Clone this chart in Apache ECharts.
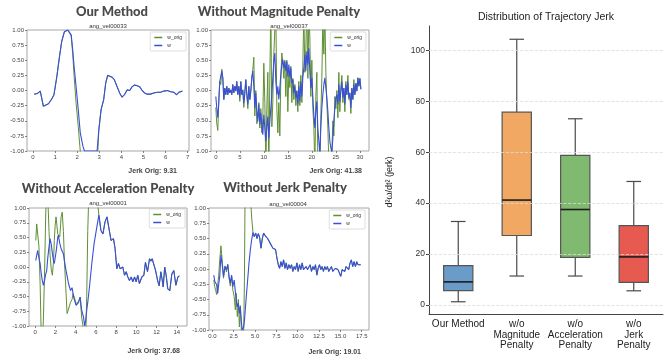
<!DOCTYPE html>
<html>
<head>
<meta charset="utf-8">
<script src="https://cdn.jsdelivr.net/npm/echarts@6/dist/echarts.min.js"></script>
<style>
  html, body { margin: 0; padding: 0; background: #fff; }
  #main { width: 665px; height: 360px; }
</style>
</head>
<body>
<div id="main"></div>
<script>
// --- Our Method (ang_vel00033)
const ourT = [0.06, 0.20, 0.33, 0.47, 0.55, 0.70, 0.85, 0.95, 1.08, 1.20, 1.30, 1.42, 1.50, 1.58, 1.65,
  1.73, 1.80, 1.86, 1.95, 2.05, 2.14, 2.26, 2.33, 2.60, 2.90, 2.98, 3.08, 3.20, 3.29, 3.38,
  3.47, 3.58, 3.68, 3.80, 3.92, 4.03, 4.14, 4.26, 4.38, 4.48, 4.59, 4.71, 4.83, 4.94, 5.05,
  5.17, 5.32, 5.47, 5.62, 5.77, 5.92, 6.08, 6.23, 6.38, 6.50, 6.60, 6.76];
const ourW = [-0.06, -0.05, -0.01, -0.26, -0.28, -0.22, -0.14, -0.07, 0.23, 0.56, 0.81, 0.97, 1.00, 1.00, 0.99,
  0.92, 0.67, 0.40, 0.07, -0.32, -0.70, -0.92, -1.00, -1.00, -1.00, -0.65, -0.32, -0.15, 0.12, 0.25,
  0.26, 0.22, 0.18, 0.07, -0.04, -0.11, -0.07, 0.01, 0.00, 0.06, 0.09, 0.08, 0.06, 0.00, -0.04,
  -0.06, -0.06, -0.04, -0.03, -0.03, -0.01, 0.00, -0.02, -0.03, -0.07, -0.03, -0.01];
const ourOrig = [-0.06, -0.05, -0.01, -0.26, -0.28, -0.22, -0.14, -0.07, 0.23, 0.56, 0.81, 0.97, 1.00, 1.00, 0.99,
  0.90, 0.60, 0.25, -0.20, -0.60, -1.00, -1.60, -1.90, -2.20, -1.30, -0.65, -0.32, -0.15, 0.12, 0.25,
  0.26, 0.22, 0.18, 0.07, -0.04, -0.11, -0.07, 0.01, 0.00, 0.06, 0.09, 0.08, 0.06, 0.00, -0.04,
  -0.06, -0.06, -0.04, -0.03, -0.03, -0.01, 0.00, -0.02, -0.03, -0.07, -0.03, -0.01];

// --- Without Magnitude Penalty (ang_vel00037)
const magT = [0.00, 0.21, 0.42, 0.62, 0.83, 1.04, 1.25, 1.46, 1.67, 1.87,
  2.08, 2.29, 2.50, 2.71, 2.92, 3.12, 3.33, 3.54, 3.75, 3.96,
  4.17, 4.37, 4.58, 4.79, 5.00, 5.21, 5.42, 5.62, 5.83, 6.04,
  6.25, 6.46, 6.67, 6.87, 7.08, 7.29, 7.50, 7.71, 7.92, 8.12,
  8.33, 8.54, 8.75, 8.96, 9.17, 9.37, 9.58, 9.79, 10.00, 10.21,
  10.42, 10.62, 10.83, 11.04, 11.25, 11.46, 11.67, 11.87, 12.08, 12.29,
  12.50, 12.71, 12.92, 13.12, 13.33, 13.54, 13.75, 13.96, 14.17, 14.37,
  14.58, 14.79, 15.00, 15.21, 15.42, 15.62, 15.83, 16.04, 16.25, 16.46,
  16.67, 16.87, 17.08, 17.29, 17.50, 17.71, 17.92, 18.12, 18.33, 18.54,
  18.75, 18.96, 19.17, 19.37, 19.58, 19.79, 20.00, 20.21, 20.42, 20.62,
  20.83, 21.04, 21.25, 21.46, 21.67, 21.87, 22.08, 22.29, 22.50, 22.71,
  22.92, 23.12, 23.33, 23.54, 23.75, 23.96, 24.17, 24.37, 24.58, 24.79,
  25.00, 25.21, 25.42, 25.62, 25.83, 26.04, 26.25, 26.46, 26.67, 26.87,
  27.08, 27.29, 27.50, 27.71, 27.92, 28.12, 28.33, 28.54, 28.75, 28.96,
  29.17, 29.37, 29.58, 29.79, 30.00, 30.21];
const magW = [-0.10, -0.29, -0.45, -0.21, 0.15, 0.12, 0.32, 0.21, -0.15, 0.04,
  -0.07, 0.07, -0.07, 0.04, -0.04, 0.01, -0.07, 0.10, -0.04, 0.07,
  -0.01, 0.15, -0.07, 0.07, -0.12, 0.15, -0.07, 0.01, -0.21, -0.04,
  0.18, -0.07, -0.23, 0.07, -0.15, -0.01, 0.21, 0.32, 0.07, -0.29,
  -0.04, -0.32, -0.51, -0.23, -0.56, -0.37, -0.56, -0.73, -0.40, -0.62,
  -0.84, -0.62, -0.43, -0.79, -0.51, -0.29, -0.07, 0.21, 0.48, 0.62,
  0.15, -0.07, 0.07, -0.15, 0.04, 0.26, 0.43, 0.51, 0.37, 0.48,
  0.32, 0.48, 0.23, 0.43, 0.21, 0.37, 0.12, 0.18, -0.04, 0.07,
  -0.12, -0.01, -0.23, 0.07, -0.18, 0.15, -0.10, 0.21, 0.37, 0.59,
  0.32, 0.65, 0.43, 0.70, 0.32, 0.04, 0.21, -0.12, -0.40, -0.62,
  -0.34, -0.18, -0.62, -0.84, -1.03, -0.62, -0.29, -0.07, 0.10, 0.21,
  0.04, -0.12, -0.34, -0.62, -0.84, -0.95, -1.03, -0.79, -0.51, -0.29,
  -0.12, -0.07, -0.23, 0.10, -0.18, -0.01, 0.15, -0.12, 0.04, -0.23,
  0.10, -0.07, 0.15, -0.12, -0.04, -0.29, 0.04, -0.15, 0.10, -0.07,
  0.12, -0.01, 0.21, 0.07, 0.20, 0.02];
const magOrig = [-0.28, -0.55, -0.66, -0.15, 0.15, 0.10, 0.35, 0.20, -0.15, 0.04,
  -0.07, 0.07, -0.07, 0.04, -0.04, 0.01, -0.07, 0.10, -0.04, 0.07,
  -0.01, 0.15, -0.07, 0.07, -0.18, 0.15, -0.07, 0.01, -0.28, -0.04,
  0.18, -0.07, -0.30, 0.07, -0.15, -0.01, 0.20, 0.35, 0.55, -0.42,
  0.00, -0.55, -0.45, -0.20, -0.62, -0.30, -0.70, -0.45, 0.45, -0.20,
  -1.30, -0.30, 0.30, -1.40, 0.20, 1.40, -0.60, -0.20, 0.60, 1.00,
  1.30, -0.30, -0.70, -0.20, -0.75, 0.20, 0.62, 0.45, 0.20, 0.50,
  -0.10, 0.50, -0.35, 0.30, 0.05, 0.40, -0.20, 0.20, -0.15, 0.10,
  -0.25, 0.00, -0.35, 0.15, -0.25, 0.25, -0.20, 0.40, 1.30, 0.30,
  0.70, 1.40, 0.20, 1.20, 0.90, -0.10, 0.50, -0.30, -0.60, -1.30,
  -0.10, 0.30, -1.20, -1.10, -1.30, -0.40, 0.20, 1.20, 0.60, 1.30,
  0.30, -0.20, -0.60, -1.20, -1.10, -1.30, -1.00, -0.50, -0.75, -0.10,
  -0.30, 0.00, -0.45, 0.30, -0.35, 0.05, 0.25, -0.20, 0.04, -0.35,
  0.15, -0.07, 0.25, -0.15, -0.04, -0.38, 0.04, -0.15, 0.18, -0.07,
  0.12, -0.01, 0.21, 0.07, 0.20, 0.02];

// --- Without Acceleration Penalty (ang_vel00001)
const accT = [0.07, 0.16, 0.26, 0.38, 0.50, 0.60, 0.70, 0.82, 0.95, 1.05,
  1.15, 1.25, 1.38, 1.48, 1.60, 1.71, 1.82, 1.90, 1.98, 2.07,
  2.14, 2.24, 2.30, 2.44, 2.57, 2.68, 2.80, 2.90, 3.06, 3.16,
  3.30, 3.50, 3.65, 3.75, 3.85, 4.05, 4.18, 4.30, 4.45, 4.60,
  4.78, 4.90, 5.00, 5.10, 5.20, 5.30, 5.37, 5.60, 5.83, 6.10,
  6.30, 6.50, 6.70, 6.90, 7.10, 7.30, 7.50, 7.62, 7.74, 7.90,
  8.07, 8.23, 8.40, 8.56, 8.66, 8.83, 9.00, 9.16, 9.32, 9.49,
  9.65, 9.82, 9.98, 10.14, 10.30, 10.54, 10.74, 10.90, 11.10, 11.30,
  11.45, 11.56, 11.70, 11.90, 12.10, 12.25, 12.42, 12.55, 12.65, 12.80,
  12.95, 13.10, 13.30, 13.50, 13.70, 13.90, 14.10, 14.25];
const accW = [0.11, 0.20, 0.28, 0.15, 0.06, -0.10, -0.22, -0.31, -0.22, -0.12,
  -0.06, 0.15, 0.35, 0.48, 0.38, 0.23, 0.10, 0.06, 0.15, 0.25,
  0.35, 0.50, 0.54, 0.40, 0.31, 0.33, 0.22, 0.10, -0.06, -0.15,
  -0.28, -0.40, -0.35, -0.45, -0.54, -0.65, -0.62, -0.60, -0.51, -0.73,
  -0.85, -1.00, -0.90, -0.73, -0.60, -0.45, -0.34, 0.06, 0.40, 0.68,
  0.88, 0.62, 0.56, 0.76, 0.85, 0.65, 0.45, 0.42, 0.48, 0.31,
  -0.03, 0.06, -0.03, -0.05, 0.00, -0.14, -0.08, -0.17, -0.23, -0.17,
  -0.25, -0.17, -0.25, -0.14, -0.28, -0.17, -0.14, 0.08, -0.08, 0.14,
  0.10, 0.14, 0.12, -0.06, -0.23, -0.32, -0.08, -0.22, -0.34, 0.00,
  -0.15, -0.37, -0.40, -0.12, -0.06, -0.31, -0.17, -0.15];
const accOrig = [0.45, 0.73, 0.71, 0.35, -0.30, -1.10, -1.30, -0.90, 0.00, 0.90,
  1.30, 1.20, 0.60, 0.20, -0.05, -0.14, 0.10, 0.45, 0.70, 0.85,
  0.82, 0.56, 0.55, 0.51, 0.85, 0.93, 0.60, 0.10, -0.45, -0.79,
  -0.78, -0.60, -0.55, -0.45, -0.50, -0.62, -0.62, -0.58, -0.51, -0.85,
  -1.05, -1.30, -1.20, -0.50, 0.60, 1.20, 1.40, 1.60, 1.50, 1.20,
  0.88, 0.62, 0.56, 0.76, 0.85, 0.65, 0.45, 0.42, 0.48, 0.31,
  -0.03, 0.06, -0.03, -0.05, 0.00, -0.14, -0.08, -0.17, -0.23, -0.17,
  -0.25, -0.17, -0.25, -0.14, -0.28, -0.17, -0.14, 0.08, -0.08, 0.14,
  0.10, 0.14, 0.12, -0.06, -0.23, -0.32, -0.08, -0.22, -0.34, 0.00,
  -0.15, -0.37, -0.40, -0.12, -0.06, -0.31, -0.17, -0.15];

// --- Without Jerk Penalty (ang_vel00004)
const jrkT = [0.16, 0.27, 0.38, 0.50, 0.62, 0.74, 0.86, 1.00, 1.17, 1.30,
  1.47, 1.64, 1.80, 1.95, 2.10, 2.25, 2.40, 2.55, 2.69, 2.80,
  2.92, 3.04, 3.16, 3.27, 3.39, 3.50, 3.66, 3.75, 3.82, 3.97,
  4.13, 4.29, 4.44, 4.60, 4.75, 4.90, 5.07, 5.22, 5.38, 5.53,
  5.69, 5.85, 6.00, 6.16, 6.31, 6.47, 6.63, 6.78, 6.94, 7.09,
  7.25, 7.40, 7.56, 7.72, 7.87, 8.03, 8.18, 8.34, 8.50, 8.65,
  8.80, 8.96, 9.11, 9.27, 9.43, 9.58, 9.74, 9.90, 10.05, 10.21,
  10.36, 10.52, 10.67, 10.83, 10.98, 11.14, 11.30, 11.46, 11.61, 11.77,
  11.92, 12.08, 12.24, 12.39, 12.55, 12.70, 12.86, 13.01, 13.17, 13.32,
  13.48, 13.63, 13.79, 13.95, 14.10, 14.26, 14.41, 14.57, 14.72, 14.89,
  15.04, 15.20, 15.35, 15.51, 15.66, 15.82, 15.97, 16.13, 16.28, 16.44,
  16.60, 16.76, 16.91, 17.07, 17.22, 17.38];
const jrkW = [-0.10, -0.20, -0.18, -0.26, -0.40, -0.25, -0.12, 0.23, 0.04, -0.12,
  0.04, -0.01, 0.07, -0.12, -0.23, -0.10, -0.29, -0.18, -0.37, -0.53,
  -0.62, -0.56, -0.73, -0.62, -0.86, -1.00, -0.95, -0.85, -0.73, -0.45,
  -0.18, 0.10, 0.31, 0.48, 0.60, 0.53, 0.59, 0.50, 0.58, 0.52,
  0.34, 0.50, 0.59, 0.55, 0.58, 0.50, 0.52, 0.42, 0.45, 0.34,
  0.37, 0.32, 0.18, 0.07, 0.01, 0.12, 0.04, 0.15, 0.01, 0.10,
  -0.01, 0.07, 0.01, 0.07, -0.04, 0.04, -0.01, 0.10, -0.04, 0.07,
  -0.01, 0.10, -0.01, -0.04, 0.04, -0.01, 0.01, 0.07, -0.04, 0.04,
  -0.01, 0.07, -0.10, 0.01, 0.07, -0.01, 0.04, -0.04, 0.04, -0.01,
  0.04, -0.04, -0.01, 0.04, -0.04, -0.01, 0.01, 0.04, -0.01, -0.07,
  -0.12, -0.01, 0.01, -0.04, 0.04, 0.01, -0.01, 0.10, 0.15, 0.04,
  0.12, 0.04, 0.12, 0.07, 0.04, 0.07];
const jrkOrig = [-0.18, -0.29, -0.35, -0.42, -0.40, -0.10, 0.15, 0.38, 0.10, -0.15,
  0.05, -0.05, 0.08, -0.15, -0.28, -0.12, -0.35, -0.45, -0.67, -0.40,
  -0.78, -0.50, -0.95, -0.60, -1.00, -1.30, -1.10, -0.20, 1.10, 1.40,
  1.60, 1.50, 1.20, 0.85, 0.60, 0.53, 0.59, 0.50, 0.58, 0.52,
  0.34, 0.50, 0.59, 0.55, 0.58, 0.50, 0.52, 0.42, 0.45, 0.34,
  0.37, 0.32, 0.18, 0.07, 0.01, 0.12, 0.04, 0.15, 0.01, 0.10,
  -0.01, 0.07, 0.01, 0.07, -0.04, 0.04, -0.01, 0.10, -0.04, 0.07,
  -0.01, 0.10, -0.01, -0.04, 0.04, -0.01, 0.01, 0.07, -0.04, 0.04,
  -0.01, 0.07, -0.10, 0.01, 0.07, -0.01, 0.04, -0.04, 0.04, -0.01,
  0.04, -0.04, -0.01, 0.04, -0.04, -0.01, 0.01, 0.04, -0.01, -0.07,
  -0.12, -0.01, 0.01, -0.04, 0.04, 0.01, -0.01, 0.10, 0.15, 0.04,
  0.12, 0.04, 0.12, 0.07, 0.04, 0.07];

// --- Distribution of Trajectory Jerk (box plot)
const boxCats = ['Our Method', 'w/o\nMagnitude\nPenalty', 'w/o\nAcceleration\nPenalty', 'w/o\nJerk\nPenalty'];
const boxMin = [1.3, 11.4, 11.4, 5.6];
const boxQ1 = [5.7, 27.3, 18.7, 8.9];
const boxMed = [9.1, 41.2, 37.5, 18.9];
const boxQ3 = [15.5, 75.7, 58.7, 31.2];
const boxMax = [32.8, 104.3, 73.1, 48.5];
const boxTicks = [0, 20, 40, 60, 80, 100];

const GREEN = '#5f8f34';
const BLUE = '#3a4fd8';
const boxColors = ['#6b9bc8', '#f0a862', '#80ba71', '#e65a50'];

const pairs = (xs, ys) => xs.map((x, i) => [x, ys[i]]);

// small panels: grid rect + x range + x ticks
const panels = [
  { left: 27, top: 30, width: 162, height: 121, xMin: -0.27, xMax: 7.06, xTicks: [0, 1, 2, 3, 4, 5, 6, 7], dec: 0 },
  { left: 211, top: 30, width: 158, height: 121, xMin: -1.0, xMax: 31.9, xTicks: [0, 5, 10, 15, 20, 25, 30], dec: 0 },
  { left: 29, top: 208, width: 158, height: 118, xMin: -0.6, xMax: 15.0, xTicks: [0, 2, 4, 6, 8, 10, 12, 14], dec: 0 },
  { left: 209, top: 208, width: 160, height: 122, xMin: -0.4, xMax: 18.35, xTicks: [0, 2.5, 5, 7.5, 10, 12.5, 15, 17.5], dec: 1 }
];
const panelData = [
  [ourT, ourOrig, ourW],
  [magT, magOrig, magW],
  [accT, accOrig, accW],
  [jrkT, jrkOrig, jrkW]
];

const grids = panels.map(p => ({
  left: p.left, top: p.top, width: p.width, height: p.height,
  show: true, borderColor: '#a6a6a6', borderWidth: 1, backgroundColor: '#fff'
}));
grids.push({ left: 429, right: 2, top: 26, bottom: 46 });

const xAxes = panels.map((p, i) => ({
  gridIndex: i, type: 'value', min: p.xMin, max: p.xMax, position: 'bottom',
  axisLine: { show: false, onZero: false },
  axisTick: { show: true, length: 2, customValues: p.xTicks, lineStyle: { color: '#666', width: 0.8 } },
  axisLabel: { customValues: p.xTicks, fontSize: 6, color: '#444', margin: 3,
    formatter: v => v.toFixed(p.dec) },
  splitLine: { show: false }
}));
xAxes.push({
  gridIndex: 4, type: 'category', data: boxCats, boundaryGap: true, position: 'bottom',
  axisLine: { onZero: false, lineStyle: { color: '#444', width: 1 } },
  axisTick: { alignWithLabel: true, length: 3, lineStyle: { color: '#444' } },
  axisLabel: { interval: 0, fontSize: 10, lineHeight: 10.5, color: '#222', margin: 5 }
});

const yAxes = panels.map((p, i) => ({
  gridIndex: i, type: 'value', min: -1, max: 1, interval: 0.25, position: 'left',
  axisLine: { show: false, onZero: false },
  axisTick: { show: true, length: 2, lineStyle: { color: '#666', width: 0.8 } },
  axisLabel: { fontSize: 6, color: '#444', margin: 3,
    // the second panel's labels are cut at the left edge in the figure, losing the minus sign
    formatter: v => (i === 1 ? Math.abs(v) : v).toFixed(2) },
  splitLine: { show: false }
}));
yAxes.push({
  gridIndex: 4, type: 'value', min: -3.5, max: 109.5, position: 'left',
  axisLine: { show: true, onZero: false, lineStyle: { color: '#444', width: 1 } },
  axisTick: { show: true, length: 3, customValues: boxTicks, lineStyle: { color: '#444' } },
  axisLabel: { customValues: boxTicks, fontSize: 8.5, color: '#333', margin: 4 },
  splitLine: { show: false }
});

const series = [];
panelData.forEach((d, i) => {
  series.push({
    type: 'line', name: 'w_orig', xAxisIndex: i, yAxisIndex: i,
    data: pairs(d[0], d[1]), showSymbol: false, symbol: 'none', clip: true, z: 2,
    lineStyle: { color: GREEN, width: 1.0 }, itemStyle: { color: GREEN }
  });
  series.push({
    type: 'line', name: 'w', xAxisIndex: i, yAxisIndex: i,
    data: pairs(d[0], d[2]), showSymbol: false, symbol: 'none', clip: true, z: 3,
    lineStyle: { color: BLUE, width: 1.1 }, itemStyle: { color: BLUE }
  });
});

// dashed grid lines of the box plot, behind the boxes
series.push({
  type: 'line', xAxisIndex: 4, yAxisIndex: 4, data: [], z: 1, silent: true,
  markLine: {
    silent: true, symbol: ['none', 'none'], label: { show: false },
    lineStyle: { type: 'dashed', color: '#dcdcdc', width: 0.8 },
    data: boxTicks.map(v => ({ yAxis: v }))
  }
});

function renderBox(params, api) {
  const i = api.value(0);
  const pMin = api.coord([i, api.value(1)]);
  const pQ1 = api.coord([i, api.value(2)]);
  const pMed = api.coord([i, api.value(3)]);
  const pQ3 = api.coord([i, api.value(4)]);
  const pMax = api.coord([i, api.value(5)]);
  const hw = api.size([1, 0])[0] * 0.25;
  const cw = hw * 0.5;
  const x = pMed[0];
  const edge = { stroke: '#4a4a4a', lineWidth: 1.2 };
  return {
    type: 'group',
    children: [
      { type: 'line', shape: { x1: x, y1: pQ1[1], x2: x, y2: pMin[1] }, style: edge },
      { type: 'line', shape: { x1: x, y1: pQ3[1], x2: x, y2: pMax[1] }, style: edge },
      { type: 'line', shape: { x1: x - cw, y1: pMin[1], x2: x + cw, y2: pMin[1] }, style: edge },
      { type: 'line', shape: { x1: x - cw, y1: pMax[1], x2: x + cw, y2: pMax[1] }, style: edge },
      { type: 'rect', shape: { x: x - hw, y: pQ3[1], width: 2 * hw, height: pQ1[1] - pQ3[1] },
        style: { fill: boxColors[i], stroke: '#555', lineWidth: 1.2 } },
      { type: 'line', shape: { x1: x - hw, y1: pMed[1], x2: x + hw, y2: pMed[1] },
        style: { stroke: '#1c1c1c', lineWidth: 1.6 } }
    ]
  };
}

series.push({
  type: 'custom', xAxisIndex: 4, yAxisIndex: 4, z: 3,
  renderItem: renderBox,
  encode: { x: 0, y: [1, 2, 3, 4, 5] },
  data: boxCats.map((c, i) => [i, boxMin[i], boxQ1[i], boxMed[i], boxQ3[i], boxMax[i]])
});

const legendBase = {
  orient: 'vertical', data: ['w_orig', 'w'], icon: 'rect', itemWidth: 8, itemHeight: 1.5, itemGap: 3,
  padding: [3, 4, 3, 4], textStyle: { fontSize: 5, color: '#333' },
  borderColor: '#c8c8c8', borderWidth: 0.6, borderRadius: 1, backgroundColor: '#fff', selectedMode: false
};
const legends = [
  Object.assign({}, legendBase, { right: 479, top: 32 }),
  Object.assign({}, legendBase, { right: 299, top: 32 }),
  Object.assign({}, legendBase, { right: 480, top: 209 }),
  Object.assign({}, legendBase, { right: 300, top: 210 })
];

function label(text, x, y, font, fill, align, rot) {
  return {
    type: 'text', x: x, y: y, rotation: rot || 0, silent: true,
    style: { text: text, font: font, fill: fill, textAlign: align, align: align,
      textVerticalAlign: 'middle', verticalAlign: 'middle' }
  };
}
const TITLE = '900 13px Lato, sans-serif';
const SUB = '6px "Liberation Sans", Arial, sans-serif';
const JERK = 'bold 7px "Liberation Sans", Arial, sans-serif';
const graphics = [
  label('Our Method', 112, 12, TITLE, '#4a4a4a', 'center'),
  label('Without Magnitude Penalty', 279, 12, TITLE, '#4a4a4a', 'center'),
  label('Without Acceleration Penalty', 108, 189, TITLE, '#4a4a4a', 'center'),
  label('Without Jerk Penalty', 285, 188, TITLE, '#4a4a4a', 'center'),
  label('ang_vel00033', 108, 26, SUB, '#333', 'center'),
  label('ang_vel00037', 289, 26, SUB, '#333', 'center'),
  label('ang_vel00001', 108, 203.5, SUB, '#333', 'center'),
  label('ang_vel00004', 288, 204.5, SUB, '#333', 'center'),
  label('Jerk Orig: 9.31', 177, 171, JERK, '#444', 'right'),
  label('Jerk Orig: 41.38', 362, 171, JERK, '#444', 'right'),
  label('Jerk Orig: 37.68', 180, 351, JERK, '#444', 'right'),
  label('Jerk Orig: 19.01', 361, 352, JERK, '#444', 'right'),
  label('Distribution of Trajectory Jerk', 546, 17, '10.5px "Liberation Sans", Arial, sans-serif', '#222', 'center'),
  label('d\u00b2\u03c9/dt\u00b2 (jerk)', 390, 182, '9px "Liberation Sans", Arial, sans-serif', '#222', 'center', Math.PI / 2)
];

const chart = echarts.init(document.getElementById('main'), null, { renderer: 'canvas' });
chart.setOption({
  animation: false,
  backgroundColor: '#fff',
  textStyle: { fontFamily: '"Liberation Sans", Arial, sans-serif' },
  grid: grids,
  xAxis: xAxes,
  yAxis: yAxes,
  legend: legends,
  graphic: graphics,
  series: series
});
</script>
</body>
</html>
